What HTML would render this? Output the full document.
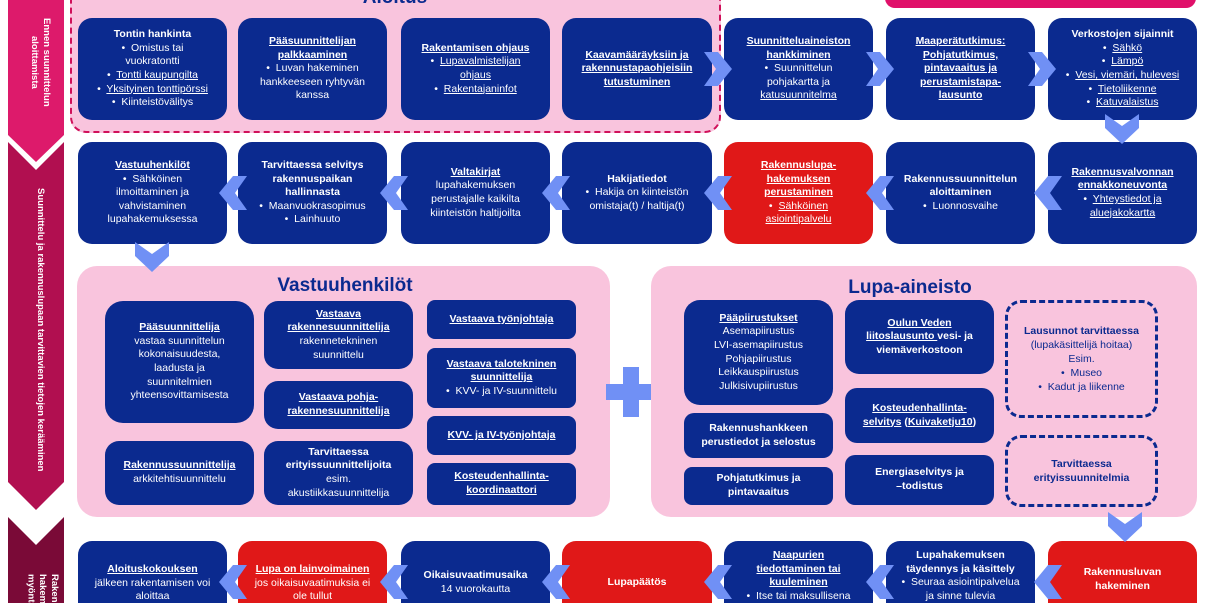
<!DOCTYPE html>
<html><head><meta charset="utf-8"><style>
*{margin:0;padding:0;box-sizing:border-box}
html{width:1206px;height:603px;overflow:hidden}
body{width:1206px;height:603px;overflow:hidden;background:#fff;position:relative;font-family:"Liberation Sans",sans-serif}
.a{position:absolute}
.b{position:absolute;background:#0b2a8f;border-radius:14px;color:#fff;display:flex;align-items:center;justify-content:center;text-align:center;font-size:10.5px;line-height:1.3;padding:0 6px}
.r{background:#e01818}
.row3{height:62px;top:541px;border-radius:14px 14px 0 0;align-items:flex-start}
.pink{position:absolute;background:#f9c4dd;border-radius:20px}
.t{position:absolute;color:#0b2a8f;font-weight:bold;font-size:19px;text-align:center}
.d{position:absolute;border:3px dashed #0b2a8f;border-radius:16px;color:#0b2a8f;display:flex;align-items:center;justify-content:center;text-align:center;font-size:10.5px;line-height:1.35}
.v{position:absolute;writing-mode:vertical-rl;color:#fff;font-weight:bold;font-size:9.5px;text-align:center;line-height:1.25}
</style></head><body>
<svg class="a" style="left:0;top:0" width="1206" height="603">
<polygon points="8,0 64,0 64,135 36,162 8,135" fill="#dd1a6b"/>
<polygon points="8,142 36,170 64,142 64,482 36,510 8,482" fill="#b10f50"/>
<polygon points="8,517 36,545 64,517 64,603 8,603" fill="#7a0a37"/>
</svg>
<div class="v" style="left:22px;top:12px;height:100px;width:30px">Ennen suunnittelun aloittamista</div>
<div class="v" style="left:28px;top:160px;height:340px;width:18px">Suunnittelu ja rakennuslupaan tarvittavien tietojen kerääminen</div>
<div class="a" style="left:8px;top:560px;width:56px;height:43px;overflow:hidden">
<div class="v" style="left:8px;top:14px;height:120px;width:44px;text-align:left">Rakennusluvan hakeminen ja myöntäminen</div>
</div>

<div class="a" style="left:70px;top:-20px;width:651px;height:153px;background:#f9c4dd;border:2px dashed #d0105a;border-radius:16px"></div>
<div class="t" style="left:300px;top:-13px;width:190px">Aloitus</div>
<div class="a" style="left:885px;top:-20px;width:311px;height:28px;background:#e0106a;border-radius:10px"></div>

<!-- row 1 -->
<div class="b" style="left:78px;top:18px;width:149px;height:102px"><div><b>Tontin hankinta</b><br>•&nbsp; Omistus tai<br>vuokratontti<br>•&nbsp; <u>Tontti kaupungilta</u><br>•&nbsp; <u>Yksityinen tonttipörssi</u><br>•&nbsp; Kiinteistövälitys</div></div>
<div class="b" style="left:238px;top:18px;width:149px;height:102px"><div><u><b>Pääsuunnittelijan<br>palkkaaminen</b></u><br>•&nbsp; Luvan hakeminen<br>hankkeeseen ryhtyvän<br>kanssa</div></div>
<div class="b" style="left:401px;top:18px;width:149px;height:102px"><div><u><b>Rakentamisen ohjaus</b></u><br>•&nbsp; <u>Lupavalmistelijan</u><br><u>ohjaus</u><br>•&nbsp; <u>Rakentajaninfot</u></div></div>
<div class="b" style="left:562px;top:18px;width:150px;height:102px"><div><u><b>Kaavamääräyksiin ja<br>rakennustapaohjeisiin<br>tutustuminen</b></u></div></div>
<div class="b" style="left:724px;top:18px;width:149px;height:102px"><div><u><b>Suunnitteluaineiston<br>hankkiminen</b></u><br>•&nbsp; Suunnittelun<br>pohjakartta ja<br><u>katusuunnitelma</u></div></div>
<div class="b" style="left:886px;top:18px;width:149px;height:102px"><div><u><b>Maaperätutkimus:<br>Pohjatutkimus,<br>pintavaaitus ja<br>perustamistapa-<br>lausunto</b></u></div></div>
<div class="b" style="left:1048px;top:18px;width:149px;height:102px;padding:0 2px"><div><b>Verkostojen sijainnit</b><br>•&nbsp; <u>Sähkö</u><br>•&nbsp; <u>Lämpö</u><br>•&nbsp; <u>Vesi, viemäri, hulevesi</u><br>•&nbsp; <u>Tietoliikenne</u><br>•&nbsp; <u>Katuvalaistus</u></div></div>

<!-- row 2 -->
<div class="b" style="left:78px;top:142px;width:149px;height:102px"><div><u><b>Vastuuhenkilöt</b></u><br>•&nbsp; Sähköinen<br>ilmoittaminen ja<br>vahvistaminen<br>lupahakemuksessa</div></div>
<div class="b" style="left:238px;top:142px;width:149px;height:102px"><div><b>Tarvittaessa selvitys<br>rakennuspaikan<br>hallinnasta</b><br>•&nbsp; Maanvuokrasopimus<br>•&nbsp; Lainhuuto</div></div>
<div class="b" style="left:401px;top:142px;width:149px;height:102px"><div><u><b>Valtakirjat</b></u><br>lupahakemuksen<br>perustajalle kaikilta<br>kiinteistön haltijoilta</div></div>
<div class="b" style="left:562px;top:142px;width:150px;height:102px"><div><b>Hakijatiedot</b><br>•&nbsp; Hakija on kiinteistön<br>omistaja(t) / haltija(t)</div></div>
<div class="b r" style="left:724px;top:142px;width:149px;height:102px"><div><u><b>Rakennuslupa-<br>hakemuksen<br>perustaminen</b></u><br>•&nbsp; <u>Sähköinen</u><br><u>asiointipalvelu</u></div></div>
<div class="b" style="left:886px;top:142px;width:149px;height:102px"><div><b>Rakennussuunnittelun<br>aloittaminen</b><br>•&nbsp; Luonnosvaihe</div></div>
<div class="b" style="left:1048px;top:142px;width:149px;height:102px"><div><u><b>Rakennusvalvonnan<br>ennakkoneuvonta</b></u><br>•&nbsp; <u>Yhteystiedot ja</u><br><u>aluejakokartta</u></div></div>

<!-- Vastuuhenkilöt -->
<div class="pink" style="left:77px;top:266px;width:533px;height:251px"></div>
<div class="t" style="left:200px;top:275px;width:290px">Vastuuhenkilöt</div>
<div class="b" style="left:105px;top:301px;width:149px;height:122px;border-radius:18px"><div><u><b>Pääsuunnittelija</b></u><br>vastaa suunnittelun<br>kokonaisuudesta,<br>laadusta ja<br>suunnitelmien<br>yhteensovittamisesta</div></div>
<div class="b" style="left:105px;top:441px;width:149px;height:64px"><div><u><b>Rakennussuunnittelija</b></u><br>arkkitehtisuunnittelu</div></div>
<div class="b" style="left:264px;top:301px;width:149px;height:68px"><div><u><b>Vastaava<br>rakennesuunnittelija</b></u><br>rakennetekninen<br>suunnittelu</div></div>
<div class="b" style="left:264px;top:381px;width:149px;height:48px"><div><u><b>Vastaava pohja-<br>rakennesuunnittelija</b></u></div></div>
<div class="b" style="left:264px;top:441px;width:149px;height:64px"><div><b>Tarvittaessa<br>erityissuunnittelijoita</b><br>esim.<br>akustiikkasuunnittelija</div></div>
<div class="b" style="left:427px;top:300px;width:149px;height:39px;border-radius:8px"><div><u><b>Vastaava työnjohtaja</b></u></div></div>
<div class="b" style="left:427px;top:348px;width:149px;height:60px;border-radius:8px"><div><u><b>Vastaava talotekninen<br>suunnittelija</b></u><br>•&nbsp; KVV- ja IV-suunnittelu</div></div>
<div class="b" style="left:427px;top:416px;width:149px;height:39px;border-radius:8px"><div><u><b>KVV- ja IV-työnjohtaja</b></u></div></div>
<div class="b" style="left:427px;top:463px;width:149px;height:42px;border-radius:8px"><div><u><b>Kosteudenhallinta-<br>koordinaattori</b></u></div></div>

<!-- plus -->
<div class="a" style="left:623px;top:367px;width:16px;height:50px;background:#7090f5"></div>
<div class="a" style="left:606px;top:384px;width:50px;height:16px;background:#7090f5"></div>

<!-- Lupa-aineisto -->
<div class="pink" style="left:651px;top:266px;width:546px;height:251px"></div>
<div class="t" style="left:820px;top:277px;width:180px">Lupa-aineisto</div>
<div class="b" style="left:684px;top:300px;width:149px;height:105px;border-radius:16px"><div><u><b>Pääpiirustukset</b></u><br>Asemapiirustus<br>LVI-asemapiirustus<br>Pohjapiirustus<br>Leikkauspiirustus<br>Julkisivupiirustus</div></div>
<div class="b" style="left:684px;top:413px;width:149px;height:45px;border-radius:10px"><div><b>Rakennushankkeen<br>perustiedot ja selostus</b></div></div>
<div class="b" style="left:684px;top:467px;width:149px;height:38px;border-radius:8px"><div><b>Pohjatutkimus ja<br>pintavaaitus</b></div></div>
<div class="b" style="left:845px;top:300px;width:149px;height:74px;border-radius:14px"><div><u><b>Oulun Veden<br>liitoslausunto </b></u><b>vesi- ja<br>viemäverkostoon</b></div></div>
<div class="b" style="left:845px;top:388px;width:149px;height:55px;border-radius:12px"><div><u><b>Kosteudenhallinta-<br>selvitys</b></u><b> (<u>Kuivaketju10</u>)</b></div></div>
<div class="b" style="left:845px;top:455px;width:149px;height:50px;border-radius:10px"><div><b>Energiaselvitys ja<br>–todistus</b></div></div>
<div class="d" style="left:1005px;top:300px;width:153px;height:118px"><div><b>Lausunnot tarvittaessa</b><br>(lupakäsittelijä hoitaa)<br>Esim.<br>•&nbsp; Museo<br>•&nbsp; Kadut ja liikenne</div></div>
<div class="d" style="left:1005px;top:435px;width:153px;height:72px"><div><b>Tarvittaessa<br>erityissuunnitelmia</b></div></div>

<!-- row 3 -->
<div class="b row3" style="left:78px;width:149px;padding-top:22px"><div><u><b>Aloituskokouksen</b></u><br>jälkeen rakentamisen voi<br>aloittaa</div></div>
<div class="b r row3" style="left:238px;width:149px;padding-top:22px"><div><u><b>Lupa on lainvoimainen</b></u><br>jos oikaisuvaatimuksia ei<br>ole tullut</div></div>
<div class="b row3" style="left:401px;width:149px;padding-top:28px"><div><b>Oikaisuvaatimusaika</b><br>14 vuorokautta</div></div>
<div class="b r row3" style="left:562px;width:150px;padding-top:35px"><div><b>Lupapäätös</b></div></div>
<div class="b row3" style="left:724px;width:149px;padding-top:8px"><div><u><b>Naapurien<br>tiedottaminen tai<br>kuuleminen</b></u><br>•&nbsp; Itse tai maksullisena</div></div>
<div class="b row3" style="left:886px;width:149px;padding-top:8px"><div><b>Lupahakemuksen<br>täydennys ja käsittely</b><br>•&nbsp; Seuraa asiointipalvelua<br>ja sinne tulevia</div></div>
<div class="b r row3" style="left:1048px;width:149px;padding-top:25px"><div><b>Rakennusluvan<br>hakeminen</b></div></div>

<!-- chevrons -->
<svg class="a" style="left:0;top:0" width="1206" height="603">
<defs>
<polygon id="R" points="0,0 14,0 28,17 14,34 0,34 12,17" fill="#7090f5"/>
<polygon id="L" points="28,0 14,0 0,17 14,34 28,34 16,17" fill="#7090f5"/>
<polygon id="D" points="0,0 17,12 34,0 34,14 17,30 0,14" fill="#7090f5"/>
</defs>
<use href="#R" x="704" y="52"/><use href="#R" x="866" y="52"/><use href="#R" x="1028" y="52"/>
<use href="#D" x="1105" y="114"/>
<use href="#L" x="1034" y="176"/><use href="#L" x="866" y="176"/><use href="#L" x="704" y="176"/><use href="#L" x="542" y="176"/><use href="#L" x="380" y="176"/><use href="#L" x="219" y="176"/>
<use href="#D" x="135" y="242"/>
<use href="#D" x="1108" y="512"/>
<use href="#L" x="1034" y="565"/><use href="#L" x="866" y="565"/><use href="#L" x="704" y="565"/><use href="#L" x="542" y="565"/><use href="#L" x="380" y="565"/><use href="#L" x="219" y="565"/>
</svg>
</body></html>
